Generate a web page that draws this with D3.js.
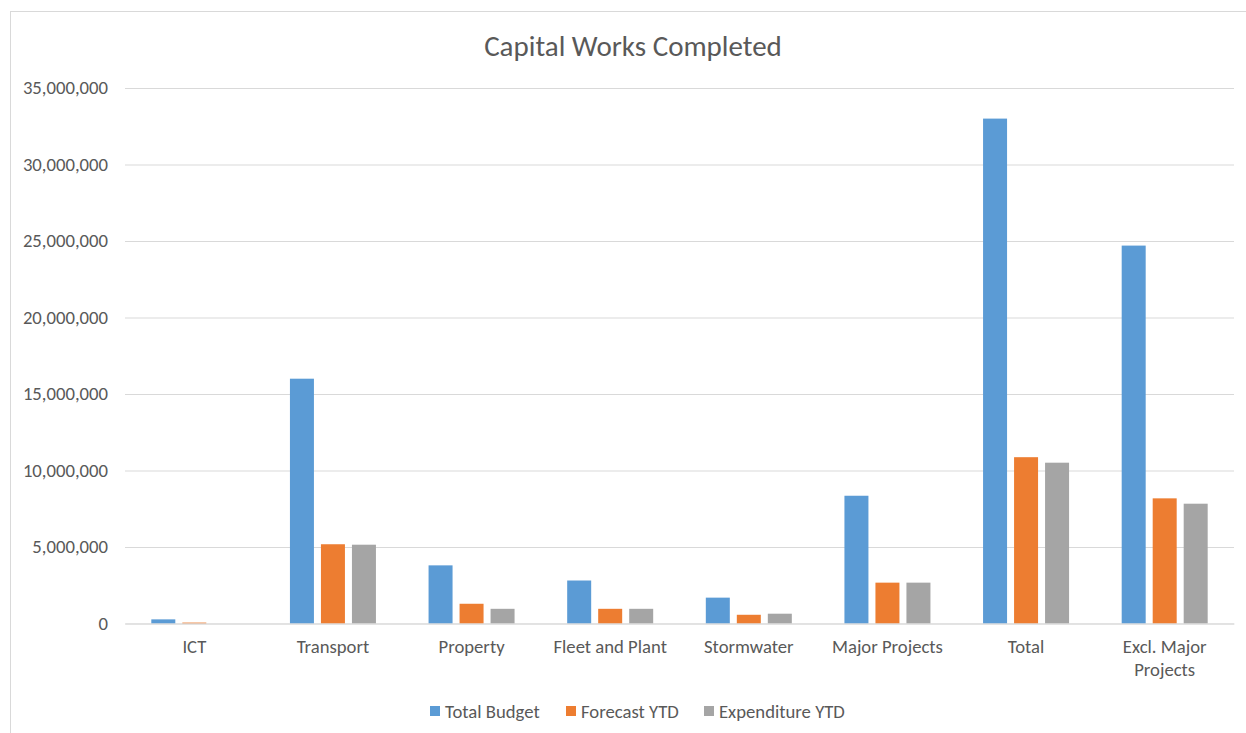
<!DOCTYPE html>
<html>
<head>
<meta charset="utf-8">
<script src="https://cdn.jsdelivr.net/npm/d3@7"></script>
<style>
  html, body { margin: 0; padding: 0; background: #fff; }
  svg { display: block; }
  svg text { font-family: Carlito, Calibri, "Open Sans", "Liberation Sans", sans-serif; }
</style>
</head>
<body>
<svg id="chart" width="1246" height="733"></svg>
<script>
// Capital works: budget vs forecast vs actual spend by program
const categories = ["ICT", "Transport", "Property", "Fleet and Plant", "Stormwater", "Major Projects", "Total", "Excl. Major Projects"];
const seriesNames = ["Total Budget", "Forecast YTD", "Expenditure YTD"];
const totalBudget    = [270000, 16000000, 3800000, 2810000, 1690000, 8350000, 33000000, 24700000];
const forecastYTD    = [60000, 5180000, 1290000, 960000, 570000, 2670000, 10870000, 8180000];
const expenditureYTD = [0, 5150000, 960000, 960000, 640000, 2670000, 10510000, 7830000];
const yTicks = [0, 5000000, 10000000, 15000000, 20000000, 25000000, 30000000, 35000000];
const colors = ["#5B9BD5", "#ED7D31", "#A5A5A5"];

const seriesValues = [totalBudget, forecastYTD, expenditureYTD];
const rows = categories.map((c, i) => ({
  category: c,
  values: seriesNames.map((s, k) => ({ series: s, value: seriesValues[k][i] }))
}));

const svg = d3.select("#chart");
const plot = { left: 125, right: 1234, top: 88, bottom: 623.5 };
const labelSize = 18.7;

// chart frame
svg.append("rect")
  .attr("x", 10.5).attr("y", 11.5)
  .attr("width", 1400).attr("height", 900)
  .attr("fill", "#fff").attr("stroke", "#d9d9d9").attr("stroke-width", 1);

svg.append("text")
  .attr("x", 633).attr("y", 55.5)
  .attr("text-anchor", "middle")
  .attr("font-size", 29)
  .attr("fill", "#595959")
  .text("Capital Works Completed");

const y = d3.scaleLinear().domain([0, 35000000]).range([plot.bottom, plot.top]);
const x0 = d3.scaleBand().domain(categories).range([plot.left, plot.right]).padding(0);
const groupWidth = 86;
const x1 = d3.scaleBand().domain(seriesNames).range([0, groupWidth]).paddingInner(0.226).paddingOuter(0);
const color = d3.scaleOrdinal().domain(seriesNames).range(colors);

// horizontal gridlines and value labels
const yAxis = d3.axisLeft(y)
  .tickValues(yTicks)
  .tickSize(-(plot.right - plot.left))
  .tickPadding(17)
  .tickFormat(d3.format(",.0f"));

const gy = svg.append("g")
  .attr("transform", `translate(${plot.left},0)`)
  .call(yAxis)
  .attr("font-family", null);
gy.select(".domain").remove();
gy.selectAll(".tick line").attr("stroke", "#d9d9d9").attr("stroke-width", 1);
gy.selectAll(".tick text").attr("fill", "#595959").attr("font-size", labelSize);

// bars
const groups = svg.append("g").selectAll("g")
  .data(rows)
  .join("g")
  .attr("transform", d => `translate(${x0(d.category) + (x0.bandwidth() - groupWidth) / 2},0)`);

groups.selectAll("rect")
  .data(d => d.values)
  .join("rect")
  .attr("x", d => x1(d.series))
  .attr("width", x1.bandwidth())
  .attr("y", d => y(d.value))
  .attr("height", d => y(0) - y(d.value))
  .attr("fill", d => color(d.series));

// category axis
const xAxis = d3.axisBottom(x0).tickSize(0).tickPadding(16);
const gx = svg.append("g")
  .attr("transform", `translate(0,${plot.bottom})`)
  .call(xAxis)
  .attr("font-family", null);
gx.select(".domain").attr("stroke", "#d9d9d9");
gx.selectAll(".tick text")
  .attr("fill", "#595959")
  .attr("font-size", labelSize)
  .each(function(d) {
    const t = d3.select(this);
    if (d === "Excl. Major Projects") {
      t.text(null);
      t.append("tspan").attr("x", 0).attr("dy", "0.71em").text("Excl. Major");
      t.append("tspan").attr("x", 0).attr("dy", "1.23em").text("Projects");
    }
  });

// legend
const legendX = [430, 566, 704];
const legend = svg.append("g").selectAll("g")
  .data(seriesNames)
  .join("g")
  .attr("transform", (d, i) => `translate(${legendX[i]},706)`);
legend.append("rect")
  .attr("width", 10).attr("height", 10)
  .attr("fill", d => color(d));
legend.append("text")
  .attr("x", 15).attr("y", 12)
  .attr("font-size", labelSize)
  .attr("fill", "#595959")
  .text(d => d);
</script>
</body>
</html>
